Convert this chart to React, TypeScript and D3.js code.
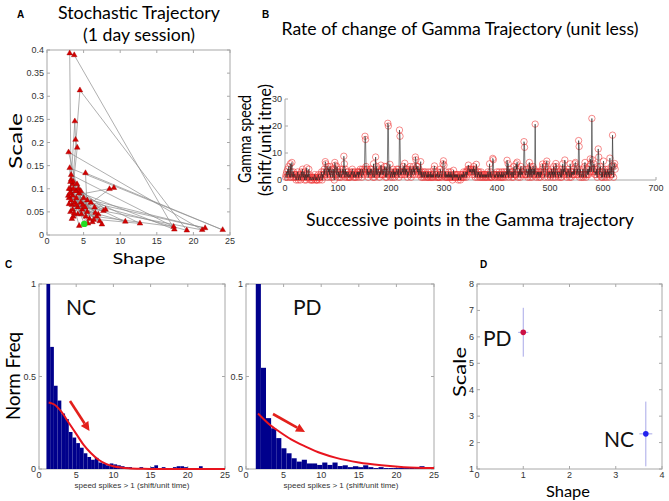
import React from 'react';
import * as d3 from 'd3';

// ---------- Panel A: stochastic trajectory (shape, scale) ----------
const trajShape = [5.1, 4.2, 3.3, 3.1, 3.72, 17.4, 4.0, 3.5, 4.5, 19.1, 3.0, 3.3, 3.8, 3.9, 4.13, 3.2, 4.6, 2.95, 21.2, 3.4, 3.1, 24.0, 5.26, 5.5, 3.6, 8.54, 9.14, 3.5, 21.6, 6.0, 4.2, 17.3, 3.3, 6.5, 10.7, 4.8, 3.2, 12.7, 5.8, 4.0, 7.0, 3.0, 7.7, 4.4, 6.2, 3.6, 5.3, 4.1, 7.5, 3.8, 6.8, 3.5, 4.9, 2.9, 5.6, 4.3, 8.0, 3.3, 5.0, 3.7, 6.4, 4.6, 3.1, 5.2, 3.4, 4.0, 7.2, 3.9, 4.7, 3.2, 5.5, 3.6, 6.6, 3.0, 4.4];
const trajScale = [0.024, 0.06, 0.09, 0.393, 0.389, 0.012, 0.095, 0.11, 0.313, 0.01, 0.08, 0.12, 0.246, 0.206, 0.189, 0.05, 0.07, 0.179, 0.011, 0.065, 0.145, 0.011, 0.134, 0.05, 0.04, 0.0995, 0.102, 0.085, 0.015, 0.07, 0.045, 0.018, 0.13, 0.06, 0.029, 0.055, 0.1, 0.025, 0.035, 0.08, 0.045, 0.067, 0.052, 0.09, 0.028, 0.115, 0.04, 0.11, 0.023, 0.07, 0.04, 0.055, 0.065, 0.085, 0.025, 0.1, 0.055, 0.075, 0.08, 0.047, 0.033, 0.095, 0.09, 0.06, 0.035, 0.065, 0.03, 0.095, 0.045, 0.115, 0.075, 0.1, 0.048, 0.1, 0.02];
const startPoint = [5.09, 0.024];
const aXTicks = [0, 5, 10, 15, 20, 25];
const aYTicks = [0, 0.05, 0.1, 0.15, 0.2, 0.25, 0.3, 0.35, 0.4];

// ---------- Panel B: gamma speed ----------
const speedDigits =
  "12314252161302131221012301210231421301201121420110" +
  "01101210100121011230213421632153425123412402132541" +
  "32143122423614231231121232431231212323132432143234" +
  "54342413234243216213425234313214224235315123423412" +
  "32142313234234126232435231243413234521432534246453" +
  "52432513212312321213122131212142312213112143212614" +
  "21312121312131201312121212011201212131223132434343" +
  "43243524133213231213212122121212312613112132121223" +
  "12132121312132213242613422312315222642313241523234" +
  "43222431423152413524213123231231324153213561412323" +
  "12423152312542312321413624313231243216313232426452" +
  "34242143212412532124242535636343642324152423521314" +
  "23142312423163252341524";
const speedSpikeIdx = [12, 40, 75, 93, 94, 110, 111, 150, 151, 152, 170, 180, 193, 194, 197, 215, 216, 225, 245, 246, 255, 281, 298, 299, 317, 345, 360, 391, 392, 418, 437, 450, 451, 460, 471, 472, 485, 493, 510, 527, 547, 553, 554, 565, 575, 578, 579, 590, 591, 600, 612, 617, 618, 621];
const speedSpikeVal = [6.5, 4.5, 6.8, 6.5, 5.5, 8.8, 6, 16.2, 15, 5, 8.5, 5.5, 21, 20, 5.8, 18.5, 16.2, 6.2, 8.5, 7.5, 6.8, 5.2, 7.1, 5.5, 3.6, 5.5, 5.8, 8, 7.5, 7.3, 6.6, 14.2, 12.1, 6.5, 20.7, 3, 5.9, 7, 6.1, 7.4, 6.5, 14.6, 12.4, 6.5, 7.8, 22.8, 7.5, 11.5, 8.5, 7, 8.1, 16.6, 5.5, 6.1];
const bXTicks = [0, 100, 200, 300, 400, 500, 600, 700];
const bYTicks = [0, 10, 20, 30];

// ---------- Panel C: histograms ----------
const ncBinStart = 1;
const ncBinWidth = 0.5;
const ncHeights = [1.0, 0.66, 0.45, 0.37, 0.3, 0.27, 0.2, 0.17, 0.14, 0.115, 0.085, 0.065, 0.05, 0.06, 0.035, 0.03, 0.02, 0.03, 0.025, 0.02, 0.015, 0.01, 0.01, 0.005, 0.005, 0.01, 0.005, 0, 0.01, 0.02, 0.005, 0.01, 0.005, 0, 0.01, 0.015, 0.015, 0.01, 0.005, 0, 0, 0.015, 0, 0, 0, 0, 0, 0];
const ncFitX = [1.3, 2, 3, 4, 5, 6, 7, 8, 9, 10, 11, 12, 14, 16, 20, 25];
const ncFitY = [0.36, 0.35, 0.31, 0.25, 0.19, 0.13, 0.085, 0.05, 0.028, 0.015, 0.008, 0.004, 0.001, 0, 0, 0];
const pdBinStart = 1.3;
const pdBinWidth = 0.68;
const pdHeights = [1.0, 0.547, 0.275, 0.22, 0.167, 0.112, 0.085, 0.058, 0.04, 0.05, 0.03, 0.03, 0.022, 0.035, 0.022, 0.035, 0.016, 0.02, 0.01, 0.015, 0.01, 0.02, 0.01, 0.005, 0.01, 0.005, 0.005, 0.005, 0.005, 0.005, 0.01, 0.005, 0.015, 0.005, 0.005];
const pdFitX = [1.6, 3, 4.5, 6, 8, 10, 12, 15, 18, 21, 25];
const pdFitY = [0.3, 0.245, 0.2, 0.16, 0.12, 0.085, 0.06, 0.035, 0.02, 0.01, 0.005];
const cXTicks = [0, 5, 10, 15, 20, 25];
const cYTicks = [0, 0.5, 1];

// ---------- Panel D: gamma parameters ----------
const dGroups = ['PD', 'NC'];
const dShape = [1.0, 3.65];
const dShapeErr = [0.11, 0.14];
const dScale = [6.17, 2.33];
const dScaleLo = [5.25, 1.1];
const dScaleHi = [7.1, 3.55];
const dColors = ['#cc1144', '#2222ee'];
const dXTicks = [0, 1, 2, 3, 4];
const dYTicks = [1, 2, 3, 4, 5, 6, 7, 8];

const TITLE_FONT = 'Lato, "Open Sans", sans-serif';
const TICK_FONT = '"Liberation Sans", Arial, sans-serif';
const BOX = '#a8a8a8';
const TICKC = '#333';

function BoxAxes({ x, y, xTicks, yTicks, xFmt, yFmt, tickLen = 3, xLabelDy = 9, top = true }: any) {
  const [x0, x1] = x.range();
  const [y0, y1] = y.range(); // y0 bottom, y1 top
  return (
    <g>
      <rect x={x0} y={y1} width={x1 - x0} height={y0 - y1} fill="none" stroke={BOX} strokeWidth={1} />
      {xTicks.map((t: number, i: number) => (
        <g key={'x' + i}>
          <line x1={x(t)} x2={x(t)} y1={y0} y2={y0 - tickLen} stroke={BOX} />
          {top && <line x1={x(t)} x2={x(t)} y1={y1} y2={y1 + tickLen} stroke={BOX} />}
          <text x={x(t)} y={y0 + xLabelDy} fontSize={9} fontFamily={TICK_FONT} fill={TICKC} textAnchor="middle">{xFmt(t)}</text>
        </g>
      ))}
      {yTicks.map((t: number, i: number) => (
        <g key={'y' + i}>
          <line x1={x0} x2={x0 + tickLen} y1={y(t)} y2={y(t)} stroke={BOX} />
          <line x1={x1} x2={x1 - tickLen} y1={y(t)} y2={y(t)} stroke={BOX} />
          <text x={x0 - 3} y={y(t) + 3} fontSize={9} fontFamily={TICK_FONT} fill={TICKC} textAnchor="end">{yFmt(t)}</text>
        </g>
      ))}
    </g>
  );
}

function Arrow({ x1, y1, x2, y2 }: any) {
  const ang = Math.atan2(y2 - y1, x2 - x1);
  const L = 9, Wd = 4.5;
  const bx = x2 - L * Math.cos(ang), by = y2 - L * Math.sin(ang);
  const px = -Math.sin(ang) * Wd, py = Math.cos(ang) * Wd;
  return (
    <g>
      <line x1={x1} y1={y1} x2={bx} y2={by} stroke="#e3201b" strokeWidth={2.6} />
      <path d={`M${x2},${y2}L${bx + px},${by + py}L${bx - px},${by - py}Z`} fill="#e3201b" />
    </g>
  );
}

function Histogram({ x, y, start, width, heights, fitX, fitY, label, labelX, arrow }: any) {
  const bars = heights.map((h: number, i: number) => ({ a: start + i * width, b: start + (i + 1) * width, h }));
  const line = d3.line<number>().x((_, i) => x(fitX[i])).y((d) => y(d)).curve(d3.curveMonotoneX);
  return (
    <g>
      {bars.filter((d: any) => d.h > 0 && d.a < 25).map((d: any, i: number) => (
        <rect key={i} x={x(d.a)} y={y(d.h)} width={x(Math.min(d.b, 25)) - x(d.a)} height={y(0) - y(d.h)} fill="#00008c" />
      ))}
      <path d={line(fitY) || ''} fill="none" stroke="#e8141e" strokeWidth={2} />
      <Arrow {...arrow} />
      <text x={labelX} y={315} fontSize={21} fontFamily={TITLE_FONT} fill="#111">{label}</text>
    </g>
  );
}

export default function App() {
  // Panel A scales
  const ax = d3.scaleLinear().domain([0, 25]).range([47, 230]);
  const ay = d3.scaleLinear().domain([0, 0.4]).range([235, 50]);
  const tri = d3.symbol().type(d3.symbolTriangle).size(14)();
  const trajLine = d3.line<number>().x((d) => ax(d)).y((_, i) => ay(trajScale[i]));

  // Panel B
  const bx = d3.scaleLinear().domain([0, 700]).range([285, 656]);
  const by = d3.scaleLinear().domain([0, 30]).range([180, 99]);
  const speed = speedDigits.split('').map((c) => +c);
  speedSpikeIdx.forEach((idx, k) => { speed[idx] = speedSpikeVal[k]; });
  const speedLine = d3.line<number>().x((_, i) => bx(i + 1)).y((d) => by(d));

  // Panel C
  const ncx = d3.scaleLinear().domain([0, 25]).range([39, 225]);
  const pdx = d3.scaleLinear().domain([0, 25]).range([246, 434]);
  const cy = d3.scaleLinear().domain([0, 1]).range([469, 284]);

  // Panel D
  const dx = d3.scaleLinear().domain([0, 4]).range([477, 662]);
  const dy = d3.scaleLinear().domain([1, 8]).range([469, 284]);

  const fmtA = (t: number) => (t === 0 ? '0' : String(+t.toFixed(2)));
  const plain = (t: number) => String(t);

  return (
    <svg width={669} height={501} style={{ position: 'absolute', left: 0, top: 0, background: '#fff' }}>
      <rect width={669} height={501} fill="#fff" />
      {/* Panel letters */}
      <text x={17} y={18} fontSize={10} fontWeight="bold" fontFamily={TICK_FONT}>A</text>
      <text x={262} y={18} fontSize={10} fontWeight="bold" fontFamily={TICK_FONT}>B</text>
      <text x={5} y={268} fontSize={10} fontWeight="bold" fontFamily={TICK_FONT}>C</text>
      <text x={480} y={268} fontSize={10} fontWeight="bold" fontFamily={TICK_FONT}>D</text>

      {/* ---------------- Panel A ---------------- */}
      <text x={139} y={19} fontSize={18} fontFamily={TITLE_FONT} textAnchor="middle" textLength={162} lengthAdjust="spacingAndGlyphs">Stochastic Trajectory</text>
      <text x={139} y={41} fontSize={18} fontFamily={TITLE_FONT} textAnchor="middle" textLength={112} lengthAdjust="spacingAndGlyphs">(1 day session)</text>
      <BoxAxes x={ax} y={ay} xTicks={aXTicks} yTicks={aYTicks} xFmt={plain} yFmt={fmtA} />
      <path d={trajLine(trajShape) || ''} fill="none" stroke="#8c8c8c" strokeWidth={0.7} />
      {trajShape.map((s, i) => (
        <path key={i} d={tri || ''} transform={`translate(${ax(s)},${ay(trajScale[i])})`} fill="#d40000" stroke="#990000" strokeWidth={0.4} />
      ))}
      <circle cx={ax(startPoint[0])} cy={ay(startPoint[1])} r={3.2} fill="#22dd22" />
      <text transform="translate(22,141) rotate(-90)" fontSize={17} fontFamily={TITLE_FONT} textAnchor="middle" textLength={56} lengthAdjust="spacingAndGlyphs">Scale</text>
      <text x={139} y={264} fontSize={16} fontFamily={TITLE_FONT} textAnchor="middle" textLength={53} lengthAdjust="spacingAndGlyphs">Shape</text>

      {/* ---------------- Panel B ---------------- */}
      <text x={460} y={35} fontSize={18} fontFamily={TITLE_FONT} textAnchor="middle" textLength={357} lengthAdjust="spacingAndGlyphs">Rate of change of Gamma Trajectory (unit less)</text>
      <text x={470} y={226} fontSize={18} fontFamily={TITLE_FONT} textAnchor="middle" textLength={328} lengthAdjust="spacingAndGlyphs">Successive points in the Gamma trajectory</text>
      <text transform="translate(251,139) rotate(-90)" fontSize={18} fontFamily={TITLE_FONT} textAnchor="middle" textLength={88} lengthAdjust="spacingAndGlyphs">Gamma speed</text>
      <text transform="translate(271,140) rotate(-90)" fontSize={18} fontFamily={TITLE_FONT} textAnchor="middle" textLength={112} lengthAdjust="spacingAndGlyphs">(shift/unit itme)</text>
      <line x1={285} x2={285} y1={by(30)} y2={by(0)} stroke={BOX} />
      <line x1={285} x2={656} y1={by(0)} y2={by(0)} stroke={BOX} />
      {bYTicks.map((t) => (
        <g key={t}>
          <line x1={285} x2={288} y1={by(t)} y2={by(t)} stroke={BOX} />
          <text x={282} y={by(t) + 3} fontSize={9} fontFamily={TICK_FONT} fill={TICKC} textAnchor="end">{t}</text>
        </g>
      ))}
      {bXTicks.map((t) => (
        <g key={t}>
          <line x1={bx(t)} x2={bx(t)} y1={by(0)} y2={by(0) - 3} stroke={BOX} />
          <text x={bx(t)} y={191} fontSize={9} fontFamily={TICK_FONT} fill={TICKC} textAnchor="middle">{t}</text>
        </g>
      ))}
      {speed.map((v, i) => (
        <circle key={i} cx={bx(i + 1)} cy={by(v)} r={3.2} fill="none" stroke="#ee3333" strokeWidth={0.8} strokeOpacity={0.7} />
      ))}
      <path d={speedLine(speed) || ''} fill="none" stroke="#222" strokeWidth={0.7} strokeOpacity={0.85} />

      {/* ---------------- Panel C ---------------- */}
      <text transform="translate(20,376) rotate(-90)" fontSize={19} fontFamily={TITLE_FONT} textAnchor="middle" textLength={88} lengthAdjust="spacingAndGlyphs">Norm Freq</text>
      <BoxAxes x={ncx} y={cy} xTicks={cXTicks} yTicks={cYTicks} xFmt={plain} yFmt={plain} />
      <Histogram x={ncx} y={cy} start={ncBinStart} width={ncBinWidth} heights={ncHeights} fitX={ncFitX} fitY={ncFitY} label="NC" labelX={66}
        arrow={{ x1: 70, y1: 401, x2: 89.5, y2: 431 }} />
      <text x={132} y={488} fontSize={8} fontFamily={TICK_FONT} fill={TICKC} textAnchor="middle">speed spikes &gt; 1 (shift/unit time)</text>

      <BoxAxes x={pdx} y={cy} xTicks={cXTicks} yTicks={cYTicks} xFmt={plain} yFmt={plain} />
      <Histogram x={pdx} y={cy} start={pdBinStart} width={pdBinWidth} heights={pdHeights} fitX={pdFitX} fitY={pdFitY} label="PD" labelX={293}
        arrow={{ x1: 273, y1: 414, x2: 305, y2: 432 }} />
      <text x={341} y={488} fontSize={8} fontFamily={TICK_FONT} fill={TICKC} textAnchor="middle">speed spikes &gt; 1 (shift/unit time)</text>

      {/* ---------------- Panel D ---------------- */}
      <text transform="translate(466,372) rotate(-90)" fontSize={18} fontFamily={TITLE_FONT} textAnchor="middle" textLength={50} lengthAdjust="spacingAndGlyphs">Scale</text>
      <BoxAxes x={dx} y={dy} xTicks={dXTicks} yTicks={dYTicks} xFmt={plain} yFmt={plain} />
      {dGroups.map((g, i) => (
        <g key={g}>
          <line x1={dx(dShape[i])} x2={dx(dShape[i])} y1={dy(dScaleLo[i])} y2={dy(dScaleHi[i])} stroke="#a8a8e8" strokeWidth={1} />
          <line x1={dx(dShape[i] - dShapeErr[i])} x2={dx(dShape[i] + dShapeErr[i])} y1={dy(dScale[i])} y2={dy(dScale[i])} stroke="#a8a8e8" strokeWidth={1} />
          <circle cx={dx(dShape[i])} cy={dy(dScale[i])} r={2.8} fill={dColors[i]} />
        </g>
      ))}
      <text x={483} y={346} fontSize={21} fontFamily={TITLE_FONT} fill="#111">PD</text>
      <text x={604} y={447} fontSize={21} fontFamily={TITLE_FONT} fill="#111">NC</text>
      <text x={568} y={497} fontSize={16} fontFamily={TITLE_FONT} textAnchor="middle" textLength={44} lengthAdjust="spacingAndGlyphs">Shape</text>
    </svg>
  );
}
